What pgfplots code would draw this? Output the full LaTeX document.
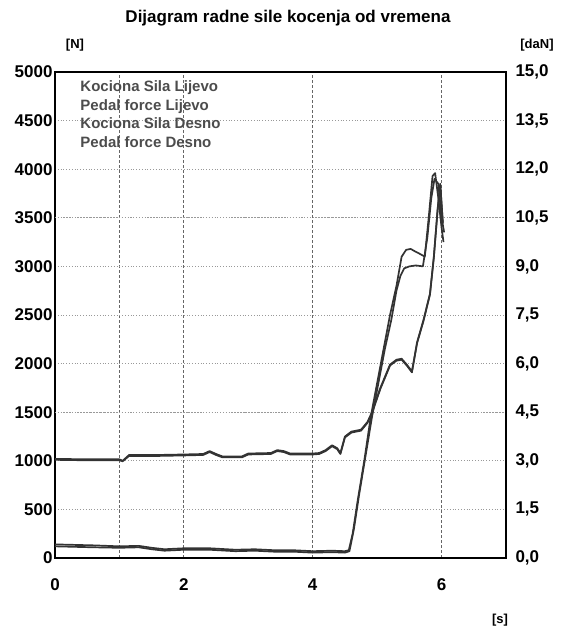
\documentclass[border=0pt]{standalone}
\usepackage{fontspec}
\setmainfont{Liberation Sans}
\usepackage{pgfplots}
\pgfplotsset{compat=1.18}

% kocione sile (gornje krivulje) i sile na pedali, [N] na lijevoj osi
\pgfplotstableread{
t F
0 140
0.3 135
0.6 130
1.0 120
1.3 125
1.5 105
1.7 90
2.0 100
2.4 100
2.8 85
3.1 90
3.4 80
3.7 80
4.0 70
4.3 75
4.5 70
4.56 80
4.62 250
4.7 600
4.8 1000
4.9 1450
5.0 1800
5.1 2150
5.2 2500
5.3 2800
5.38 3100
5.45 3170
5.52 3180
5.6 3150
5.66 3130
5.74 3100
5.8 3500
5.86 3930
5.9 3960
5.95 3700
6.0 3400
6.03 3250
}\silaL

\pgfplotstableread{
t F
0 120
0.3 115
0.6 110
1.0 105
1.3 110
1.5 90
1.7 75
2.0 85
2.4 85
2.8 70
3.1 75
3.4 65
3.7 65
4.0 55
4.3 60
4.5 55
4.57 70
4.64 300
4.72 650
4.82 1050
4.92 1450
5.02 1800
5.12 2150
5.22 2450
5.3 2750
5.36 2900
5.42 2980
5.5 3000
5.6 3010
5.71 3000
5.78 3300
5.84 3700
5.89 3900
5.95 3850
6.0 3500
6.04 3350
}\silaD

\pgfplotstableread{
t F
0 1020
0.5 1015
1.0 1015
1.05 1000
1.15 1060
1.6 1060
2.0 1065
2.3 1070
2.4 1100
2.5 1070
2.6 1045
2.9 1045
3.0 1075
3.35 1080
3.45 1110
3.55 1100
3.65 1075
4.0 1075
4.1 1080
4.2 1110
4.3 1160
4.38 1130
4.43 1080
4.5 1250
4.6 1300
4.75 1320
4.85 1400
4.92 1500
5.05 1750
5.2 1990
5.3 2040
5.38 2050
5.46 1990
5.54 1920
5.62 2220
5.72 2450
5.82 2720
5.88 3100
5.94 3600
5.98 3850
6.02 3450
}\pedalL

\pgfplotstableread{
t F
0 1010
0.5 1005
1.0 1005
1.05 995
1.15 1050
1.6 1050
2.0 1055
2.3 1060
2.4 1090
2.5 1060
2.6 1035
2.9 1035
3.0 1065
3.35 1070
3.45 1100
3.55 1090
3.65 1065
4.0 1065
4.1 1070
4.2 1100
4.3 1150
4.38 1120
4.43 1070
4.5 1240
4.6 1290
4.75 1310
4.85 1390
4.92 1490
5.05 1740
5.2 1980
5.3 2030
5.38 2040
5.46 1980
5.54 1910
5.62 2210
5.72 2440
5.82 2710
5.88 3090
5.94 3590
5.98 3840
6.02 3440
}\pedalD

\begin{document}
\begin{tikzpicture}
\useasboundingbox (-55pt,-70pt) rectangle (508pt,558pt);
\pgfplotsset{
  every tick label/.append style={font=\fontsize{17}{19}\selectfont\bfseries},
}
\begin{axis}[
  name=main,
  at={(0,0)}, anchor=south west,
  scale only axis, width=451pt, height=486pt,
  xmin=0, xmax=7, ymin=0, ymax=5000,
  xtick={0,2,4,6}, minor xtick={1},
  ytick={0,500,...,5000},
  major tick length=0pt, minor tick length=0pt,
  /pgf/number format/assume math mode=true,
  /pgf/number format/1000 sep={},
  yticklabel style={xshift=1pt},
  xticklabel style={yshift=-17pt},
  xmajorgrids, xminorgrids, ymajorgrids,
  major grid style={black!60, densely dashed, line width=0.8pt},
  minor grid style={black!60, densely dashed, line width=0.8pt},
  y grid style={black!40, dotted, line width=0.9pt},
  extra y ticks={1500,3500}, extra y tick labels={},
  extra y tick style={grid=major, major grid style={black!70, solid, line width=0.9pt}},
  axis line style={line width=1.4pt},
  legend style={draw=none, fill=none, at={(rel axis cs:0.045,0.99)}, anchor=north west,
    font=\fontsize{15}{16}\selectfont\bfseries, text=black!70, row sep=2pt},
  legend cell align=left,
  legend image code/.code={},
  every axis plot post/.append style={black!80, mark=none, line width=1.7pt, line join=round},
]
\addplot table[x=t, y=F] {\silaL};
\addlegendentry{Kociona Sila Lijevo}
\addplot table[x=t, y=F] {\pedalL};
\addlegendentry{Pedal force Lijevo}
\addplot table[x=t, y=F] {\silaD};
\addlegendentry{Kociona Sila Desno}
\addplot table[x=t, y=F] {\pedalD};
\addlegendentry{Pedal force Desno}
\end{axis}
\begin{axis}[
  at={(0,0)}, anchor=south west,
  scale only axis, width=451pt, height=486pt,
  xmin=0, xmax=7, ymin=0, ymax=15,
  axis y line*=right, axis x line=none,
  xtick={3,4,5,6}, xticklabels={},
  xmajorgrids,
  major grid style={black!70, solid, line width=0.9pt},
  ytick={0,1.5,3,4.5,6,7.5,9,10.5,12,13.5,15},
  major tick length=0pt,
  /pgf/number format/assume math mode=true,
  /pgf/number format/.cd, fixed, fixed zerofill, precision=1, use comma,
  /pgfplots/.cd,
  yticklabel style={xshift=6pt},
  axis line style={line width=1.4pt},
]
\end{axis}
\node[font=\fontsize{17}{19}\selectfont\bfseries] at (233pt,540pt) {Dijagram radne sile kocenja od vremena};
\node[font=\fontsize{13}{15}\selectfont\bfseries] at (20pt,513pt) {[N]};
\node[font=\fontsize{13}{15}\selectfont\bfseries] at (482pt,513pt) {[daN]};
\node[font=\fontsize{13}{15}\selectfont\bfseries] at (445pt,-62pt) {[s]};
\end{tikzpicture}
\end{document}
